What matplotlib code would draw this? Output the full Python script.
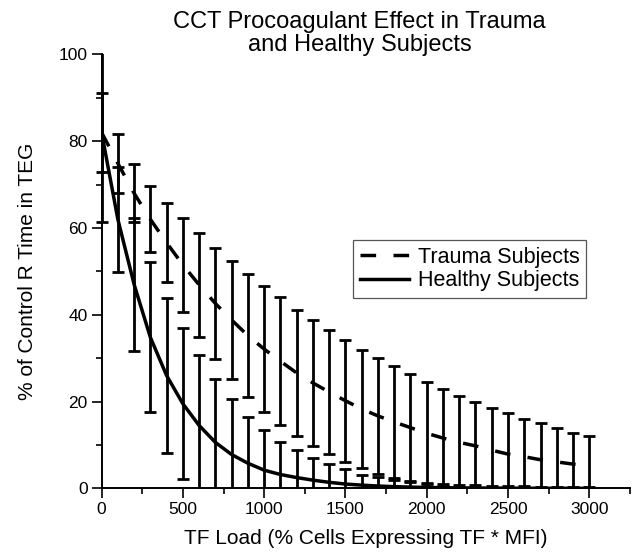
import numpy as np
import matplotlib
matplotlib.use("Agg")
import matplotlib.pyplot as plt
from matplotlib.patches import Rectangle
from matplotlib.ticker import MultipleLocator

plt.rcParams["font.family"] = ["Liberation Sans", "DejaVu Sans"]

# TF load sampled every 100 units
tf_load = list(range(0, 3001, 100))

# trauma subjects: fitted curve (dashed) and error bar ends
trauma_mean = [82.0, 74.9, 68.0, 62.0, 56.6, 51.5, 46.9, 42.6, 38.8, 35.2,
               32.1, 29.3, 26.6, 24.3, 22.2, 20.2, 18.3, 16.7, 15.3, 14.0,
               12.7, 11.6, 10.6, 9.8, 8.8, 7.9, 7.3, 6.6, 6.1, 5.6, 5.1]
trauma_hi = [91.2, 81.6, 74.7, 69.7, 65.7, 62.2, 58.8, 55.5, 52.4, 49.4,
             46.6, 44.0, 41.2, 38.8, 36.5, 34.2, 32.0, 30.0, 28.2, 26.3,
             24.5, 22.9, 21.3, 20.0, 18.6, 17.4, 16.1, 15.1, 14.0, 12.8, 12.1]
trauma_lo = [72.9, 68.1, 61.3, 54.4, 47.6, 40.7, 34.9, 29.7, 25.1, 21.1,
             17.6, 14.6, 12.0, 9.8, 7.9, 6.1, 4.6, 3.4, 2.4, 1.7,
             1.2, 0.6, 0.2, -0.4, -0.8, -1.6, -1.5, -1.9, -1.8, -1.6, -1.9]

# healthy subjects: fitted curve (solid) and error bar ends
healthy_mean = [82.0, 62.0, 47.0, 34.8, 26.0, 19.5, 14.5, 10.6, 7.8, 5.8,
                4.2, 3.2, 2.5, 1.9, 1.4, 1.0, 0.75, 0.55, 0.4, 0.3,
                0.22, 0.16, 0.12, 0.09, 0.07, 0.05, 0.04, 0.03, 0.02, 0.02, 0.01]
healthy_hi = [102.6, 74.0, 62.4, 52.1, 43.8, 36.9, 30.7, 25.1, 20.5, 16.5,
              13.4, 10.7, 8.8, 6.9, 5.6, 4.4, 3.2, 2.6, 2.0, 1.5,
              1.1, 0.9, 0.8, 0.7, 0.6, 0.5, 0.5, 0.4, 0.4, 0.3, 0.3]
healthy_lo = [61.4, 49.8, 31.6, 17.5, 8.1, 2.1, -1.7, -3.9, -4.9, -4.9,
              -5.0, -4.3, -3.8, -3.1, -2.8, -2.4, -1.7, -1.5, -1.2, -0.9,
              -0.7, -0.6, -0.5, -0.5, -0.4, -0.4, -0.4, -0.3, -0.3, -0.3, -0.3]

x = np.array(tf_load, dtype=float)

fig = plt.figure(figsize=(6.35, 5.55), dpi=100)
ax = fig.add_axes([0.160, 0.120, 0.832, 0.782])

# error bars: let them spill left of the y axis but stop at y=0 / y=100
clip = Rectangle((-0.04, 0.0), 1.08, 1.0, transform=ax.transAxes,
                 facecolor="none", edgecolor="none")

for hi, lo in [(trauma_hi, trauma_lo), (healthy_hi, healthy_lo)]:
    hi = np.array(hi)
    lo = np.array(lo)
    mid = (hi + lo) / 2
    eb = ax.errorbar(x, mid, yerr=[mid - lo, hi - mid], fmt="none",
                     ecolor="black", elinewidth=2.0, capsize=4.5,
                     capthick=2.0, zorder=3)
    for art in eb.lines[1] + eb.lines[2]:
        art.set_clip_path(clip)

ax.plot(x, trauma_mean, color="black", lw=2.5, linestyle=(0, (4.5, 5.0)),
        label="Trauma Subjects", zorder=2)
ax.plot(x, healthy_mean, color="black", lw=2.5, linestyle="-",
        label="Healthy Subjects", zorder=2)

ax.set_xlim(0, 3250)
ax.set_ylim(0, 100)
ax.xaxis.set_major_locator(MultipleLocator(500))
ax.xaxis.set_minor_locator(MultipleLocator(250))
ax.yaxis.set_major_locator(MultipleLocator(20))
ax.yaxis.set_minor_locator(MultipleLocator(10))

for side in ["top", "right"]:
    ax.spines[side].set_visible(False)
for side in ["left", "bottom"]:
    ax.spines[side].set_linewidth(1.4)

ax.tick_params(which="major", direction="out", length=7, width=1.2,
               labelsize=12.5, pad=3)
ax.tick_params(which="minor", direction="out", length=4, width=1.2)

ax.set_xlabel("TF Load (% Cells Expressing TF * MFI)", fontsize=15)
ax.set_ylabel("% of Control R Time in TEG", fontsize=15)
ax.xaxis.set_label_coords(0.5, -0.094)
ax.yaxis.set_label_coords(-0.122, 0.5)

fig.text(0.566, 1 - 11 / 555, "CCT Procoagulant Effect in Trauma\nand Healthy Subjects",
         ha="center", va="top", fontsize=17, linespacing=1.05)

leg = ax.legend(loc="upper left", bbox_to_anchor=(0.476, 0.572),
                borderaxespad=0, fontsize=15.5, frameon=True, fancybox=False,
                framealpha=1, edgecolor="#555555", handlelength=2.3,
                handletextpad=0.4, labelspacing=0.12, borderpad=0.3)
leg.get_frame().set_linewidth(0.9)

fig.savefig("out.png", dpi=100)
